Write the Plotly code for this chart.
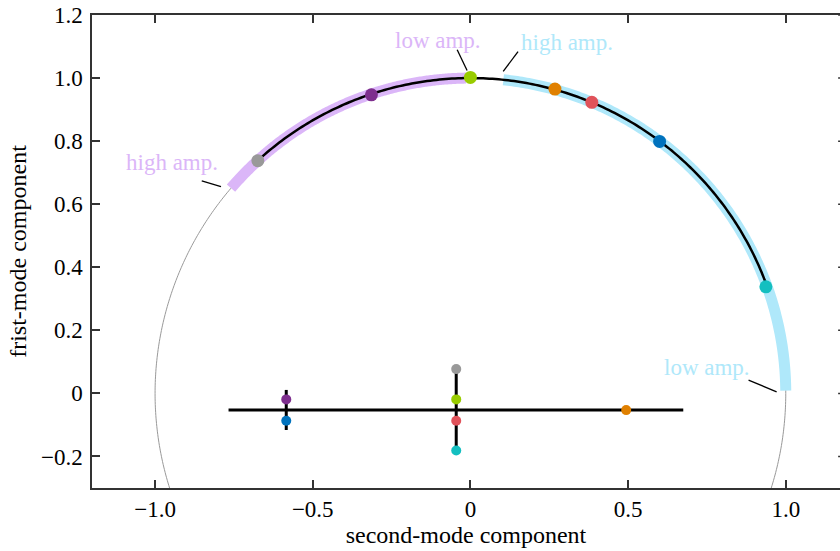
import numpy as np
import plotly.graph_objects as go

# ---------------- data ----------------
# points on the unit circle (second-mode x, first-mode y)
circ_names = ["gray", "purple", "green", "orange", "red", "blue", "cyan"]
circ_x = [-0.674, -0.314, 0.000, 0.268, 0.385, 0.600, 0.937]
circ_y = [0.738, 0.947, 1.002, 0.965, 0.923, 0.799, 0.338]
colors = ["#999999", "#7e2f8e", "#99cc00", "#e08000", "#e0525a", "#0072bd", "#14bfc0"]

# projected points (lower cross)
proj_x = [-0.045, -0.584, -0.045, 0.494, -0.045, -0.584, -0.045]
proj_y = [0.077, -0.019, -0.019, -0.053, -0.087, -0.087, -0.181]

# cross lines
hline_x = [-0.767, 0.675]
hline_y = [-0.053, -0.053]
vline1_x = [-0.584, -0.584]
vline1_y = [0.011, -0.116]
vline2_x = [-0.045, -0.045]
vline2_y = [0.077, -0.181]

# arc angle ranges (degrees)
purple_band_deg = [139.4, 90.8]
blue_band_deg = [84.0, 0.5]
black_arc_deg = [132.4, 19.8]

band_purple = "#dbb6f8"
band_blue = "#afe8fa"

# annotations: text, x, y, colour, leader line
ann_text = ["low amp.", "high amp.", "high amp.", "low amp."]
ann_x = [-0.102, 0.307, -0.946, 0.749]
ann_y = [1.118, 1.112, 0.731, 0.083]
ann_col = [band_purple, band_blue, band_purple, band_blue]
lead_x = [[-0.042, -0.0105], [0.151, 0.104], [-0.852, -0.791], [0.882, 0.971]]
lead_y = [[1.090, 1.024], [1.084, 1.021], [0.674, 0.656], [0.042, 0.005]]

x_ticks = [-1.0, -0.5, 0, 0.5, 1.0]
x_ticktext = ["\u22121.0", "\u22120.5", "0", "0.5", "1.0"]
y_ticks = [-0.2, 0, 0.2, 0.4, 0.6, 0.8, 1.0, 1.2]
y_ticktext = ["\u22120.2", "0", "0.2", "0.4", "0.6", "0.8", "1.0", "1.2"]


def arc(a0, a1, n=200):
    t = np.radians(np.linspace(a0, a1, n))
    return np.cos(t), np.sin(t)


fig = go.Figure()

# full unit circle
cx, cy = arc(0, 360, 721)
fig.add_trace(go.Scatter(x=cx, y=cy, mode="lines",
                         line=dict(color="#999999", width=1, simplify=False),
                         hoverinfo="skip"))

# bands
for rng, col in [(purple_band_deg, band_purple), (blue_band_deg, band_blue)]:
    bx, by = arc(rng[0], rng[1])
    fig.add_trace(go.Scatter(x=bx, y=by, mode="lines",
                             line=dict(color=col, width=11, simplify=False),
                             hoverinfo="skip"))

# black arc
ax_, ay_ = arc(black_arc_deg[0], black_arc_deg[1])
fig.add_trace(go.Scatter(x=ax_, y=ay_, mode="lines",
                         line=dict(color="black", width=2.5, simplify=False),
                         hoverinfo="skip"))

# cross lines
for lx, ly in [(hline_x, hline_y), (vline1_x, vline1_y), (vline2_x, vline2_y)]:
    fig.add_trace(go.Scatter(x=lx, y=ly, mode="lines",
                             line=dict(color="black", width=3), hoverinfo="skip"))

# leader lines
for lx, ly in zip(lead_x, lead_y):
    fig.add_trace(go.Scatter(x=lx, y=ly, mode="lines",
                             line=dict(color="black", width=1.3), hoverinfo="skip"))

# points
fig.add_trace(go.Scatter(x=circ_x, y=circ_y, mode="markers",
                         marker=dict(color=colors, size=13, line=dict(width=0))))
fig.add_trace(go.Scatter(x=proj_x, y=proj_y, mode="markers",
                         marker=dict(color=colors, size=10, line=dict(width=0))))

for t, x, y, c in zip(ann_text, ann_x, ann_y, ann_col):
    fig.add_annotation(x=x, y=y, text=t, showarrow=False,
                       font=dict(family="Liberation Serif", size=23, color=c))

# tiny right-side ticks (right spine lies just outside the picture)
shapes = []
for yv in y_ticks:
    shapes.append(dict(type="line", xref="paper", yref="y", x0=0.9975, x1=1.0,
                       y0=yv, y1=yv, line=dict(color="#333333", width=1.5)))
fig.update_layout(shapes=shapes)

fig.update_layout(
    width=840, height=551,
    margin=dict(l=92, r=0, t=15, b=63),
    plot_bgcolor="white", paper_bgcolor="white",
    showlegend=False,
    font=dict(family="Liberation Serif", color="black"),
    xaxis=dict(range=[-1.2, 1.172], tickvals=x_ticks, ticktext=x_ticktext,
               ticks="inside", ticklen=8, tickwidth=1.5, tickcolor="#333333",
               showline=True, linecolor="#333333", linewidth=1.5, mirror="ticks",
               showgrid=False, zeroline=False, tickfont=dict(size=23),
               title=dict(text="second-mode component", font=dict(size=24), standoff=4)),
    yaxis=dict(range=[-0.3, 1.2], tickvals=y_ticks, ticktext=y_ticktext,
               ticks="inside", ticklen=8, tickwidth=1.5, tickcolor="#333333",
               showline=True, linecolor="#333333", linewidth=1.5,
               ticklabelstandoff=3,
               showgrid=False, zeroline=False, tickfont=dict(size=23),
               title=dict(text="frist-mode component", font=dict(size=24), standoff=8)),
)

fig.write_html("out.html")
